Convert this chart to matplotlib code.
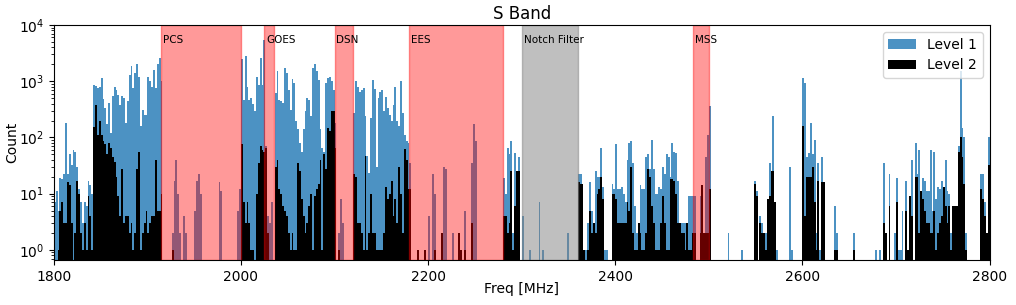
import numpy as np
import matplotlib
matplotlib.use("Agg")
import matplotlib.pyplot as plt

FREQ_MIN, FREQ_MAX, BIN_WIDTH = 1800, 2800, 2

# counts per 2 MHz bin from 1800 to 2800 MHz, one row per 50 MHz
level1 = [
    7, 11, 5, 19, 18, 22, 180, 22, 50, 33, 60, 55, 30, 12, 7, 3, 7, 6, 17, 14, 10, 870, 820, 760, 800,
    1150, 480, 330, 170, 410, 120, 550, 800, 700, 580, 380, 550, 500, 180, 450, 1300, 1900, 760, 1400, 2000, 1200, 160, 310, 250, 250,
    1200, 1000, 800, 1600, 760, 2000, 2600, 1000, 0, 0, 0, 0, 0, 2, 17, 40, 10, 2, 0, 4, 2, 0, 0, 0, 0,
    5, 17, 22, 10, 0, 0, 0, 0, 0, 0, 0, 0, 0, 16, 11, 0, 0, 0, 0, 0, 0, 0, 0, 5, 12,
    2500, 470, 2800, 800, 470, 500, 400, 300, 1200, 870, 2600, 870, 5500, 70, 4, 3, 7, 0, 630, 1500, 470, 440, 410, 1700, 1400,
    700, 310, 1100, 930, 200, 140, 80, 56, 140, 290, 500, 470, 240, 1700, 2000, 1500, 1050, 140, 65, 55, 930, 1150, 1200, 1000, 700,
    180, 0, 2, 8, 3, 0, 0, 0, 0, 0, 270, 1000, 800, 650, 700, 750, 240, 47, 23, 220, 1050, 720, 30, 500, 650,
    700, 290, 530, 330, 250, 200, 380, 800, 200, 160, 1000, 270, 110, 85, 80, 35, 0, 0, 0, 1, 0, 0, 0, 1, 0,
    4, 0, 22, 10, 0, 0, 0, 2, 30, 28, 0, 0, 0, 2, 0, 0, 2, 1, 0, 5, 0, 0, 0, 35, 170,
    85, 0, 0, 0, 0, 0, 0, 0, 0, 0, 0, 0, 0, 0, 0, 19, 10, 65, 50, 85, 2, 52, 25, 45, 0,
    4, 0, 0, 0, 1, 0, 0, 0, 0, 7, 0, 1, 0, 0, 0, 0, 0, 0, 0, 0, 0, 0, 0, 0, 2,
    0, 0, 0, 0, 0, 22, 22, 15, 1, 1, 3, 16, 5, 3, 25, 20, 20, 65, 13, 1, 1, 0, 0, 15, 12,
    75, 12, 12, 13, 10, 7, 40, 80, 85, 35, 6, 2, 3, 14, 12, 12, 45, 50, 28, 90, 27, 10, 10, 13, 12,
    30, 22, 50, 45, 20, 80, 56, 52, 17, 3, 3, 3, 3, 3, 9, 9, 9, 9, 0, 0, 9, 14, 2, 45, 110,
    360, 0, 0, 0, 0, 0, 0, 0, 0, 0, 2, 0, 0, 0, 0, 0, 0, 1, 0, 0, 0, 0, 0, 0, 17,
    11, 0, 4, 3, 2, 2, 8, 35, 25, 240, 7, 1, 0, 0, 0, 0, 0, 0, 30, 1, 0, 0, 0, 0, 0,
    1150, 930, 45, 52, 180, 50, 90, 2, 35, 1, 45, 16, 0, 0, 0, 0, 0, 6, 2, 0, 0, 0, 0, 0, 0,
    0, 0, 2, 0, 0, 0, 0, 0, 0, 0, 0, 0, 0, 0, 1, 0, 1, 0, 35, 2, 0, 22, 0, 0, 2,
    19, 1, 1, 5, 0, 17, 1, 9, 40, 0, 80, 22, 60, 11, 19, 17, 11, 11, 60, 5, 56, 8, 13, 12, 17,
    13, 40, 11, 10, 2, 6, 6, 6, 70, 1500, 150, 100, 2, 0, 0, 0, 0, 0, 0, 0, 22, 22, 7, 2, 100,
]
level2 = [
    0, 0, 1, 5, 7, 3, 3, 16, 14, 3, 0, 2, 17, 10, 2, 1, 3, 1, 9, 4, 1, 155, 380, 110, 200,
    110, 85, 77, 50, 80, 65, 45, 37, 20, 9, 4, 28, 3, 4, 4, 2, 3, 1, 2, 28, 56, 1, 2, 3, 5,
    2, 3, 4, 4, 40, 5, 5, 10, 0, 0, 0, 0, 0, 1, 0, 0, 0, 0, 0, 0, 0, 0, 0, 0, 0,
    0, 0, 0, 0, 0, 0, 0, 0, 0, 0, 0, 0, 0, 0, 0, 0, 0, 0, 0, 0, 0, 0, 0, 0, 0,
    77, 7, 3, 7, 3, 1, 1, 0, 10, 35, 70, 60, 56, 66, 2, 0, 0, 0, 30, 40, 12, 10, 6, 5, 4,
    2, 1, 2, 1, 1, 35, 25, 8, 4, 2, 3, 6, 10, 1, 9, 12, 15, 40, 1, 50, 27, 150, 130, 290, 290,
    65, 0, 1, 0, 0, 0, 0, 0, 0, 0, 22, 20, 3, 3, 2, 1, 47, 1, 2, 10, 2, 2, 1, 1, 1,
    1, 2, 13, 8, 10, 17, 4, 8, 3, 30, 10, 2, 62, 40, 12, 12, 0, 0, 0, 1, 0, 0, 0, 1, 0,
    0, 0, 0, 1, 0, 0, 0, 2, 0, 0, 0, 0, 0, 0, 0, 0, 2, 1, 0, 1, 0, 0, 0, 3, 0,
    0, 0, 0, 0, 0, 0, 0, 0, 0, 0, 0, 0, 0, 0, 0, 4, 4, 2, 3, 25, 1, 6, 25, 25, 0,
    0, 0, 0, 0, 0, 0, 0, 0, 0, 0, 0, 0, 0, 0, 0, 0, 0, 0, 0, 0, 0, 0, 0, 0, 0,
    0, 0, 0, 0, 0, 16, 15, 15, 1, 0, 1, 5, 2, 3, 2, 10, 12, 20, 8, 0, 0, 0, 0, 10, 10,
    8, 3, 3, 3, 3, 3, 7, 5, 30, 2, 1, 1, 3, 2, 1, 1, 2, 28, 20, 6, 3, 1, 1, 1, 3,
    9, 3, 1, 1, 18, 18, 17, 10, 3, 3, 2, 2, 1, 3, 1, 1, 2, 2, 0, 0, 2, 14, 2, 2, 2,
    12, 0, 0, 0, 0, 0, 0, 0, 0, 0, 0, 0, 0, 0, 0, 0, 0, 0, 0, 0, 0, 0, 0, 0, 15,
    9, 0, 3, 2, 2, 1, 8, 9, 25, 25, 7, 0, 0, 0, 0, 0, 0, 0, 0, 0, 0, 0, 0, 0, 0,
    160, 4, 20, 20, 20, 30, 7, 1, 17, 0, 16, 16, 0, 0, 0, 0, 0, 1, 1, 0, 0, 0, 0, 0, 0,
    0, 0, 1, 0, 0, 0, 0, 0, 0, 0, 0, 0, 0, 0, 0, 0, 0, 0, 3, 2, 0, 6, 0, 0, 0,
    7, 0, 0, 0, 0, 5, 1, 9, 4, 0, 20, 20, 2, 11, 8, 5, 3, 3, 2, 2, 5, 1, 2, 3, 4,
    13, 6, 3, 6, 1, 6, 6, 6, 56, 100, 45, 15, 1, 0, 0, 0, 0, 0, 0, 0, 12, 8, 4, 2, 33,
]

# protected / excluded bands (MHz)
bands = ["PCS", "GOES", "DSN", "EES", "Notch Filter", "MSS"]
band_start = [1915, 2025, 2100, 2180, 2300, 2483.5]
band_stop = [2000, 2035, 2120, 2280, 2360, 2500]
band_color = ["red", "red", "red", "red", "gray", "red"]


def main():
    edges = np.arange(FREQ_MIN, FREQ_MAX + BIN_WIDTH, BIN_WIDTH)
    centers = edges[:-1] + BIN_WIDTH / 2

    fig, ax = plt.subplots(figsize=(10.16, 3.05), dpi=100)
    fig.subplots_adjust(left=0.053, right=0.974, top=0.918, bottom=0.1475)

    ax.hist(centers, bins=edges, weights=level1, log=True, alpha=0.8, label="Level 1")
    ax.hist(centers, bins=edges, weights=level2, log=True, color="k", label="Level 2")

    for name, lo, hi, c in zip(bands, band_start, band_stop, band_color):
        ax.axvspan(lo, hi, color=c, alpha=0.5 if c == "gray" else 0.4)
        ax.text(lo + 2, 5500, name, fontsize=7.5, va="center")

    ax.set_xlim(FREQ_MIN, FREQ_MAX)
    ax.set_ylim(0.66, 1e4)
    ax.set_title("S Band", pad=4)
    ax.set_xlabel("Freq [MHz]", labelpad=-1)
    ax.set_ylabel("Count", labelpad=0)
    ax.legend(loc="upper right")

    fig.savefig("out.png", dpi=100)


if __name__ == "__main__":
    main()
